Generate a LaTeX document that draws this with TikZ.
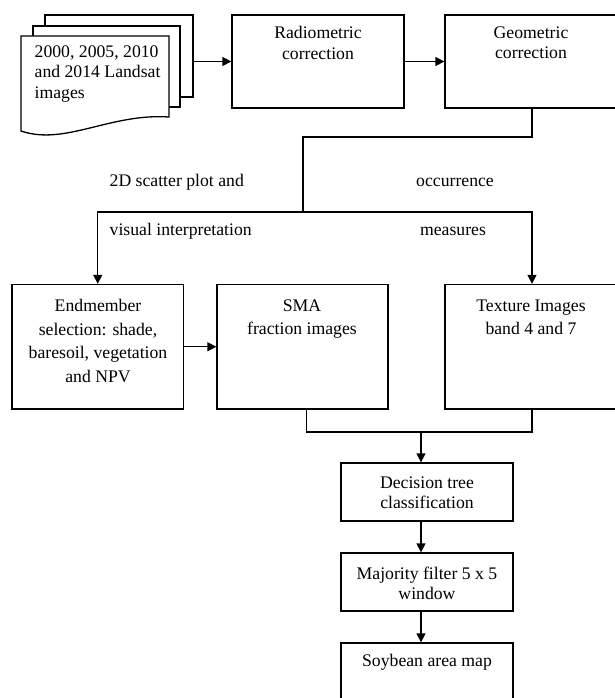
\documentclass[tikz,border=0pt]{standalone}
\usepackage{fontspec}
\setmainfont{Liberation Serif}
\usetikzlibrary{arrows.meta}
\begin{document}
\begin{tikzpicture}[x=1pt,y=-1pt,
  line width=1.3pt,
  box/.style={draw, rectangle, inner sep=0pt},
  txt/.style={font=\fontsize{17.7}{20.5}\selectfont, align=center, inner sep=0pt, anchor=north},
  txtb/.style={font=\fontsize{17.7}{23.5}\selectfont, align=center, inner sep=0pt, anchor=north},
  lbl/.style={font=\fontsize{17.7}{20.5}\selectfont, inner sep=0pt},
  arr/.style={-{Triangle[length=9pt,width=9pt]}},
  sheet/.style={draw, fill=white}]
\useasboundingbox (0,0) rectangle (615,698);
% document stack
\draw[sheet] (45,15) rectangle (193,97);
\draw[sheet] (33,26) rectangle (180,107);
\draw[sheet] (21,36) -- (169,36) -- (169,117) .. controls (110,113) and (65,146) .. (21,131) -- cycle;
\node[txt, anchor=north west, align=left] (doc) at (34,45) {2000, 2005, 2010\\and 2014 Landsat\\images};
\coordinate (docr) at (193,61.5);
% boxes
\node[box, minimum width=172pt, minimum height=93pt] (radio) at (318,61.5) {};
\node[txt] (radiot) at (318,26) {Radiometric\\correction};
\node[box, minimum width=174pt, minimum height=93pt] (geo) at (532,61.5) {};
\node[txt] (geot) at (531,26) {Geometric\\correction};
\node[box, minimum width=171.5pt, minimum height=124.5pt] (endm) at (97.75,346.75) {};
\node[txtb] (endmt) at (98,299) {Endmember\\selection: shade,\\baresoil, vegetation\\and NPV};
\node[box, minimum width=171pt, minimum height=124.5pt] (sma) at (302.5,346.75) {};
\node[txtb] (smat) at (302,299) {SMA\\fraction images};
\node[box, minimum width=174pt, minimum height=124.5pt] (tex) at (532,346.75) {};
\node[txtb] (text) at (531,299) {Texture Images\\band 4 and 7};
\node[box, minimum width=172pt, minimum height=58pt] (dec) at (427,492) {};
\node[txt] (dect) at (427,476) {Decision tree\\classification};
\node[box, minimum width=172pt, minimum height=58pt] (maj) at (427,582) {};
\node[txt] (majt) at (427,566) {Majority filter 5 x 5\\window};
\node[box, minimum width=172pt, minimum height=67pt] (soy) at (427,676.5) {};
\node[lbl, anchor=base] (soyt) at (427,666) {Soybean area map};
% labels
\node[lbl, anchor=base west] (l1) at (109,186) {2D scatter plot and};
\node[lbl, anchor=base west] (l2) at (109,235) {visual interpretation};
\node[lbl, anchor=base] (l3) at (455,186) {occurrence};
\node[lbl, anchor=base] (l4) at (453,235) {measures};
% connectors
\draw[arr] (docr) -- (radio.west);
\draw[arr] (radio.east) -- (geo.west);
\coordinate (bend) at (303,137);
\coordinate (j1) at (303,212);
\draw (geo.south) |- (bend) -- (j1);
\draw[arr] (j1) -| (endm.north);
\draw[arr] (j1) -| (tex.north);
\draw[arr] (endm.east) -- (sma.west);
\coordinate (j2) at (421,432);
\draw ([xshift=4pt]sma.south) |- (j2) -| (tex.south);
\draw[arr] (j2) -- (j2 |- dec.north);
\draw[arr] (j2 |- dec.south) -- (j2 |- maj.north);
\draw[arr] (j2 |- maj.south) -- (j2 |- soy.north);
\end{tikzpicture}
\end{document}
